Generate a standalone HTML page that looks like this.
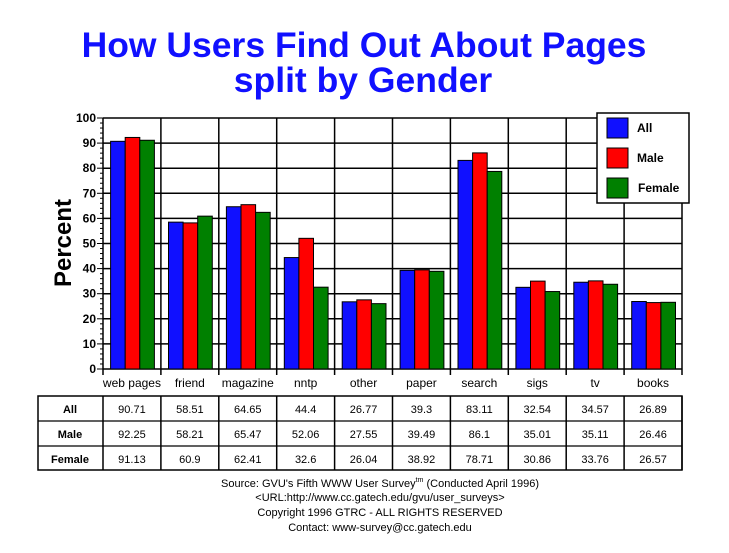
<!DOCTYPE html>
<html><head><meta charset="utf-8"><style>
html,body{margin:0;padding:0;background:#fff;}
svg{display:block;font-family:"Liberation Sans",Arial,sans-serif;}
</style></head><body>
<svg width="729" height="553" viewBox="0 0 729 553" xmlns="http://www.w3.org/2000/svg">
<rect width="729" height="553" fill="#fff"/>
<g fill="#1010ff" font-weight="bold" font-size="35.5" text-anchor="middle">
<text x="364" y="57">How Users Find Out About Pages</text>
<text x="363" y="92">split by Gender</text>
</g>
<text transform="translate(71,243) rotate(-90)" text-anchor="middle" font-size="24" font-weight="bold">Percent</text>
<g id="chart"></g>
<g font-size="11" text-anchor="middle">
<text x="380" y="487">Source: GVU's Fifth WWW User Survey<tspan font-size="7" dy="-5">tm</tspan><tspan dy="5">  (Conducted April 1996)</tspan></text>
<text x="380" y="501">&lt;URL:http://www.cc.gatech.edu/gvu/user_surveys&gt;</text>
<text x="380" y="516">Copyright 1996 GTRC -  ALL RIGHTS RESERVED</text>
<text x="380" y="531">Contact: www-survey@cc.gatech.edu</text>
</g>
<g stroke="#000" stroke-width="1.5" fill="none">
<rect x="597" y="113" width="92" height="90" fill="#fff"/>
</g>
<g stroke="#000" stroke-width="1">
<rect x="607" y="118" width="21" height="20" fill="#1010ff"/>
<rect x="607" y="148" width="21" height="20" fill="#ff0000"/>
<rect x="607" y="178" width="21" height="20" fill="#008000"/>
</g>
<g font-size="12" font-weight="bold">
<text x="637" y="132">All</text>
<text x="637" y="162">Male</text>
<text x="638" y="192">Female</text>
</g>
<script>
(function(){
var ns="http://www.w3.org/2000/svg",g=document.getElementById("chart");
function el(t,a,txt){var e=document.createElementNS(ns,t);for(var k in a)e.setAttribute(k,a[k]);if(txt!=null)e.textContent=txt;g.appendChild(e);return e;}
var cats=["web pages","friend","magazine","nntp","other","paper","search","sigs","tv","books"];
var A=[90.71,58.51,64.65,44.4,26.77,39.3,83.11,32.54,34.57,26.89];
var M=[92.25,58.21,65.47,52.06,27.55,39.49,86.1,35.01,35.11,26.46];
var F=[91.13,60.9,62.41,32.6,26.04,38.92,78.71,30.86,33.76,26.57];
var x0=103,x1=682,y0=369,y1=118,cw=(x1-x0)/10,s=(y0-y1)/100;
for(var v=10;v<=100;v+=10){var y=y0-v*s;el("line",{x1:x0,x2:x1,y1:y,y2:y,stroke:"#000","stroke-width":1.5});}
for(var v=0;v<=100;v+=2){var y=y0-v*s;el("line",{x1:x0-(v%10?3:6),x2:x0,y1:y,y2:y,stroke:"#000","stroke-width":1});}
for(var v=0;v<=100;v+=10){el("text",{x:x0-7,y:y0-v*s+4,"text-anchor":"end","font-size":"12","font-weight":"bold"},v);}
for(var i=0;i<=10;i++){var x=x0+i*cw;el("line",{x1:x,x2:x,y1:y1,y2:375,stroke:"#000","stroke-width":1.5});}
el("line",{x1:x0,x2:x1,y1:y0,y2:y0,stroke:"#000","stroke-width":1.5});
var cols=["#1010ff","#ff0000","#008000"],data=[A,M,F],bw=14.6;
for(var i=0;i<10;i++){var b=x0+i*cw+7.6;
for(var j=0;j<3;j++){var h=data[j][i]*s;el("rect",{x:b+j*bw,y:y0-h,width:bw,height:h,fill:cols[j],stroke:"#000","stroke-width":1});}
el("text",{x:x0+i*cw+cw/2,y:387,"text-anchor":"middle","font-size":"12"},cats[i]);}
var ty=[396,421,446,470],lab=["All","Male","Female"];
el("rect",{x:38,y:396,width:x1-38,height:74,fill:"none",stroke:"#000","stroke-width":1.5});
el("line",{x1:38,x2:x1,y1:421,y2:421,stroke:"#000","stroke-width":1.2});
el("line",{x1:38,x2:x1,y1:446,y2:446,stroke:"#000","stroke-width":1.2});
for(var i=0;i<=10;i++){var x=x0+i*cw;el("line",{x1:x,x2:x,y1:396,y2:470,stroke:"#000","stroke-width":1.5});}
for(var r=0;r<3;r++){var y=ty[r]+17;
el("text",{x:70,y:y,"text-anchor":"middle","font-size":"11","font-weight":"bold"},lab[r]);
for(var i=0;i<10;i++)el("text",{x:x0+i*cw+cw/2,y:y,"text-anchor":"middle","font-size":"11"},String(data[r][i]));}
})();
</script>
</svg>
</body></html>
